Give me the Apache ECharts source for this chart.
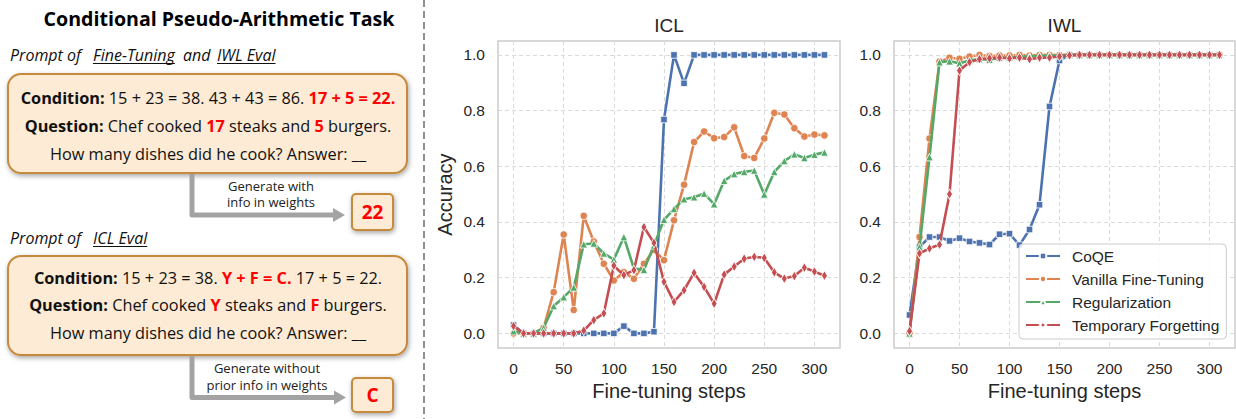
<!DOCTYPE html>
<html><head><meta charset="utf-8">
<script src="https://cdn.jsdelivr.net/npm/echarts@6/dist/echarts.min.js"></script>
<style>html,body{margin:0;padding:0;background:#fff}#c{width:1236px;height:419px}</style>
</head><body><div id="c"></div>
<script>
// ---------------- data ----------------
const steps = [0,10,20,30,40,50,60,70,80,90,100,110,120,130,140,150,160,170,180,190,200,210,220,230,240,250,260,270,280,290,300,310];
const seriesNames = ['CoQE','Vanilla Fine-Tuning','Regularization','Temporary Forgetting'];
const panelTitles = ['ICL','IWL'];
const xTicks = [0,50,100,150,200,250,300];
const yTicks = [0.0,0.2,0.4,0.6,0.8,1.0];

const coqeICL    = [0.03,0,0,0,0,0,0,0,0,0,0,0.026,0,0,0.006,0.768,1,0.898,1,1,1,1,1,1,1,1,1,1,1,1,1,1];
const vanillaICL = [0,0,0,0.02,0.148,0.355,0.084,0.422,0.33,0.25,0.19,0.22,0.196,0.25,0.3,0.263,0.406,0.534,0.687,0.725,0.701,0.705,0.74,0.637,0.63,0.70,0.792,0.786,0.737,0.707,0.714,0.711];
const regICL     = [0.008,0,0,0.02,0.098,0.13,0.165,0.32,0.323,0.287,0.265,0.346,0.233,0.228,0.316,0.408,0.447,0.482,0.489,0.502,0.464,0.548,0.572,0.58,0.585,0.499,0.58,0.619,0.643,0.63,0.642,0.65];
const tfICL      = [0.026,0,0,0,0,0,0,0.01,0.048,0.072,0.243,0.209,0.227,0.382,0.325,0.185,0.113,0.155,0.217,0.167,0.107,0.211,0.24,0.268,0.275,0.271,0.219,0.197,0.206,0.236,0.222,0.207];

const coqeIWL    = [0.066,0.31,0.346,0.346,0.332,0.342,0.33,0.325,0.319,0.356,0.358,0.317,0.373,0.462,0.815,0.98,1,1,1,1,1,1,1,1,1,1,1,1,1,1,1,1];
const vanillaIWL = [0,0.346,0.70,0.976,0.99,0.986,0.994,1,0.996,0.998,0.998,1,0.998,1,1,1,1,1,1,1,1,1,1,1,1,1,1,1,1,1,1,1];
const regIWL     = [0,0.31,0.633,0.974,0.977,0.97,0.98,0.985,0.983,0.99,0.99,0.993,0.995,0.997,0.998,0.998,1,1,1,1,1,1,1,1,1,1,1,1,1,1,1,1];
const tfIWL      = [0.008,0.287,0.305,0.319,0.50,0.944,0.974,0.985,0.988,0.99,0.988,0.99,0.985,0.99,0.99,0.995,0.998,1,1,1,1,1,1,1,1,1,1,1,1,1,1,1];

// ---------------- styling ----------------
const colors = ['#4C72B0','#DD8452','#55A868','#C44E52'];
const symbols = ['rect','circle','triangle','diamond'];
const symSizes = [6.5,7.5,7.5,[6,10]];
const chartFont = 'Liberation Sans, Arial, sans-serif';
const diaFont = 'Open Sans, Noto Sans, sans-serif';
const textCol = '#262626';

const chart = echarts.init(document.getElementById('c'), null, {renderer:'svg'});

const gridLefts = [498, 894];
const gridW = [342, 341];
const gridTop = 41, gridH = 307;

function xAxisCfg(i){
  return {
    type:'value', gridIndex:i, min:-15.5, max:325.5, minInterval:50, maxInterval:50,
    axisLine:{show:false}, axisTick:{show:false},
    axisLabel:{margin:12, fontFamily:chartFont, fontSize:15.5, color:textCol,
      formatter:v => xTicks.some(t=>Math.abs(t-v)<1e-6) ? String(Math.round(v)) : ''},
    splitLine:{show:true, showMinLine:false, showMaxLine:false, lineStyle:{color:'#dadada', width:1, type:[4,3]}},
    name:'Fine-tuning steps', nameLocation:'middle', nameGap:32,
    nameTextStyle:{fontFamily:chartFont, fontSize:20, color:textCol}
  };
}
function yAxisCfg(i){
  const c = {
    type:'value', gridIndex:i, min:-0.0525, max:1.05, minInterval:0.2, maxInterval:0.2,
    axisLine:{show:false}, axisTick:{show:false},
    axisLabel:{margin:13, fontFamily:chartFont, fontSize:15.5, color:textCol,
      formatter:v => { const t = yTicks.find(t=>Math.abs(t-v)<1e-6); return t===undefined ? '' : t.toFixed(1); }},
    splitLine:{show:true, showMinLine:false, showMaxLine:false, lineStyle:{color:'#dadada', width:1, type:[4,3]}}
  };
  if (i===0){
    c.name='Accuracy'; c.nameLocation='middle'; c.nameGap=43;
    c.nameTextStyle={fontFamily:chartFont, fontSize:20, color:textCol};
  }
  return c;
}

const panels = [[coqeICL,vanillaICL,regICL,tfICL],[coqeIWL,vanillaIWL,regIWL,tfIWL]];
const series = [];
panels.forEach((arrs,gi)=>{
  arrs.forEach((arr,k)=>{
    series.push({
      name:seriesNames[k], type:'line', xAxisIndex:gi, yAxisIndex:gi,
      data:steps.map((s,j)=>[s,arr[j]]),
      symbol:symbols[k], symbolSize:symSizes[k], showSymbol:true, showAllSymbol:true,
      lineStyle:{width:2.6, color:colors[k]},
      itemStyle:{color:colors[k], borderColor:'#ffffff', borderWidth:0.8},
      emphasis:{disabled:true}, silent:true, z:2+k*0.01
    });
  });
});

// ---------------- left diagram ----------------
const mctx = document.createElement('canvas').getContext('2d');
function tw(text, font){ mctx.font = font; return mctx.measureText(text).width; }

const boxFill = '#FDEBD5', boxStroke = '#C68A3E', red = '#FF0000', arrowCol = '#A3A3A3';
const lineSize = 16.3;
const rich = {
  b:{fontFamily:diaFont, fontSize:lineSize, fontWeight:'bold', fill:'#111'},
  r:{fontFamily:diaFont, fontSize:lineSize, fontWeight:'bold', fill:red}
};
const g = [];
// title
g.push({type:'text', x:219, y:18, style:{text:'Conditional Pseudo-Arithmetic Task', fontFamily:diaFont, fontSize:19.6, fontWeight:'bold', fill:'#000', align:'center', verticalAlign:'middle'}});

function promptLine(y, pieces){
  pieces.forEach(p=>{
    const font = 'italic 16px ' + diaFont;
    g.push({type:'text', x:p.x, y:y, style:{text:p.t, fontFamily:diaFont, fontSize:16, fontStyle:'italic', fill:'#111', align:'left', verticalAlign:'middle'}});
    if (p.u){
      const w = tw(p.t, font);
      g.push({type:'line', shape:{x1:p.x, y1:y+8.5, x2:p.x+w, y2:y+8.5}, style:{stroke:'#111', lineWidth:1}});
    }
  });
}
function box(x,y,w,h,r){
  g.push({type:'rect', shape:{x:x,y:y,width:w,height:h,r:r}, style:{fill:boxFill, stroke:boxStroke, lineWidth:2, shadowBlur:5, shadowOffsetX:1, shadowOffsetY:2, shadowColor:'rgba(0,0,0,0.35)'}});
}
function line(y, txt){
  g.push({type:'text', x:208, y:y, style:{text:txt, rich:rich, fontFamily:diaFont, fontSize:lineSize, fill:'#111', align:'center', verticalAlign:'middle'}});
}
function arrow(yTop, yBot, tipX){
  g.push({type:'polyline', shape:{points:[[192,yTop],[192,yBot],[tipX-11,yBot]]}, style:{stroke:arrowCol, lineWidth:5, fill:null, lineJoin:'round'}});
  g.push({type:'polygon', shape:{points:[[tipX-12,yBot-7],[tipX,yBot],[tipX-12,yBot+7]]}, style:{fill:arrowCol}});
}
function note(x, y, txt){
  g.push({type:'text', x:x, y:y, style:{text:txt, fontFamily:diaFont, fontSize:13, fill:'#222', align:'center', verticalAlign:'middle'}});
}
function answer(x,y,w,h,txt){
  box(x,y,w,h,4);
  g.push({type:'text', x:x+w/2, y:y+h/2, style:{text:txt, fontFamily:diaFont, fontSize:19, fontWeight:'bold', fill:red, align:'center', verticalAlign:'middle'}});
}

promptLine(55, [{x:10,t:'Prompt of'},{x:93,t:'Fine-Tuning',u:true},{x:183,t:'and'},{x:217,t:'IWL Eval',u:true}]);
box(8,74,399,99,13);
line(98, '{b|Condition:} 15 + 23 = 38. 43 + 43 = 86. {r|17 + 5 = 22.}');
line(126, '{b|Question:} Chef cooked {r|17} steaks and {r|5} burgers.');
line(154, 'How many dishes did he cook? Answer: __');
arrow(174, 215, 345);
note(271, 185.5, 'Generate with');
note(271, 202, 'info in weights');
answer(352,194,41,36,'22');

promptLine(238, [{x:10,t:'Prompt of'},{x:93,t:'ICL Eval',u:true}]);
box(8,256,399,99,13);
line(278, '{b|Condition:} 15 + 23 = 38. {r|Y + F = C.} 17 + 5 = 22.');
line(305, '{b|Question:} Chef cooked {r|Y} steaks and {r|F} burgers.');
line(333, 'How many dishes did he cook? Answer: __');
arrow(356, 397.5, 346);
note(267, 367.5, 'Generate without');
note(267, 384.5, 'prior info in weights');
answer(352,378,41,34,'C');

// divider
g.push({type:'line', shape:{x1:424,y1:0,x2:424,y2:419}, style:{stroke:'#555', lineWidth:1.3, lineDash:[7,4]}});
// panel titles
panelTitles.forEach((t,i)=>{
  g.push({type:'text', x:gridLefts[i]+gridW[i]/2, y:25, style:{text:t, fontFamily:chartFont, fontSize:19, fill:textCol, align:'center', verticalAlign:'middle'}});
});

chart.setOption({
  animation:false,
  backgroundColor:'#ffffff',
  grid: gridLefts.map((l,i)=>({left:l, top:gridTop, width:gridW[i], height:gridH, show:true, borderColor:'#cccccc', borderWidth:1.5, backgroundColor:'transparent', containLabel:false, outerBoundsMode:'none'})),
  xAxis:[xAxisCfg(0), xAxisCfg(1)],
  yAxis:[yAxisCfg(0), yAxisCfg(1)],
  legend:{
    data:seriesNames, orient:'vertical', left:1019, top:244, itemWidth:34, itemHeight:8, itemGap:5,
    padding:[3,7,5,6], backgroundColor:'rgba(255,255,255,0.85)', borderColor:'#cccccc', borderWidth:1, borderRadius:4,
    textStyle:{fontFamily:chartFont, fontSize:15.5, color:textCol, padding:[0,0,0,7], lineHeight:18},
    selectedMode:false
  },
  graphic:g,
  series:series
});
</script></body></html>
